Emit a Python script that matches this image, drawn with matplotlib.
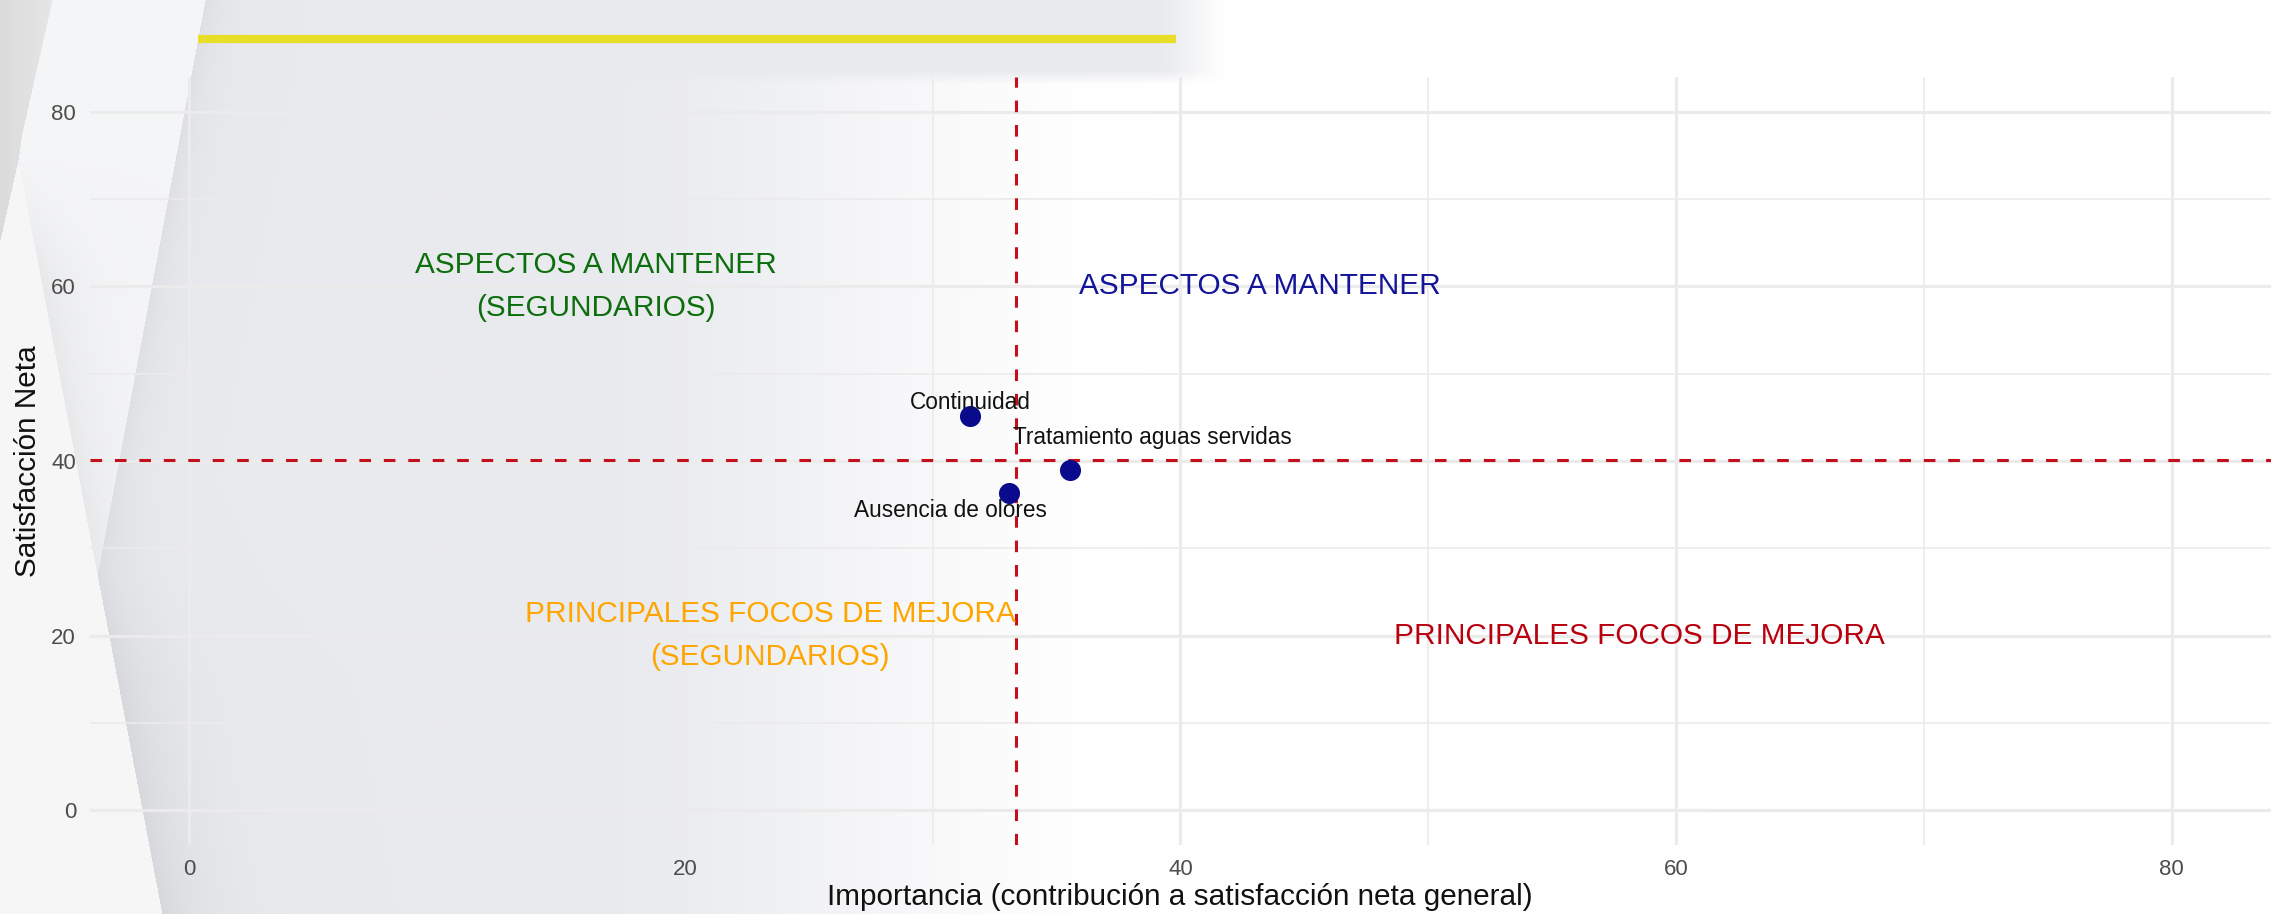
import numpy as np
import matplotlib
matplotlib.use("Agg")
import matplotlib.pyplot as plt

plt.rcParams['font.family'] = ['Liberation Sans', 'DejaVu Sans']

# ---------------- data ----------------
aspectos = ["Continuidad", "Tratamiento aguas servidas", "Ausencia de olores"]
importancia = [31.5, 35.56, 33.08]
satisfaccion = [45.1, 39.0, 36.3]

x_ticks = [0, 20, 40, 60, 80]
y_ticks = [0, 20, 40, 60, 80]
x_minor = [10, 30, 50, 70]
y_minor = [10, 30, 50, 70]

quadrant_texts = ["ASPECTOS A MANTENER\n(SEGUNDARIOS)",
                  "ASPECTOS A MANTENER",
                  "PRINCIPALES FOCOS DE MEJORA\n(SEGUNDARIOS)",
                  "PRINCIPALES FOCOS DE MEJORA"]
quadrant_x = [16.4, 43.2, 23.45, 58.5]
quadrant_y = [60.0, 60.0, 20.0, 20.0]
quadrant_colors = ["#0c6e0c", "#14149a", "#ffa500", "#b8000f"]

x_title = "Importancia (contribución a satisfacción neta general)"
y_title = "Satisfacción Neta"

# label offsets (points) for point annotations
label_offsets = [(0, 10), (59, 23), (-42, -12.5)]

# ---------------- figure ----------------
W, H = 2287, 914
fig = plt.figure(figsize=(W / 100, H / 100), dpi=100)
fig.patch.set_facecolor("white")

# decorative background
bg = fig.add_axes([0, 0, 1, 1], zorder=0)
yy, xx = np.mgrid[0:H, 0:W].astype(float)
white = np.array([1.0, 1.0, 1.0])
panel_c = np.array([0.913, 0.918, 0.933])

t = np.clip((xx - 550) / (1150 - 550), 0, 1)
s = t * t * (3 - 2 * t)
img = panel_c + (white - panel_c) * s[..., None]

# top strip (gray until ~1200 px)
t2 = np.clip((xx - 1150) / (1235 - 1150), 0, 1)
s2 = t2 * t2 * (3 - 2 * t2)
topc = panel_c + (white - panel_c) * s2[..., None]
ty = np.clip((yy - 70) / 14, 0, 1)
wy = (1 - ty)[..., None]
img = topc * wy + img * (1 - wy)

xA = 205 - yy * 105 / 560
xB = 18 + (yy - 160) * 144 / 754
edge = np.maximum(xA, xB)
panel_mask = xx > edge

# shadows on panel side (smoothly varying along y)
e = np.clip(xx - edge, 0, None)
by = np.clip((yy - 480) / 200, 0, 1)
amp = 0.045 + 0.03 * by
wid = 22 + 23 * by
shade = amp * np.exp(-e / wid)
img = img * (1 - shade[..., None])

# dark region top-left
dark_edge = np.where(yy < 133, 52 - yy * 30 / 133, 22 - (yy - 133) * 4 / 27)
dark_mask = ((yy < 160) & (xx < dark_edge)) | ((yy >= 160) & (yy < 240) & (xx < 18 - (yy - 160) * 18 / 80))
left_bound = np.where(yy < 160, dark_edge, xB)
band_mask = (~panel_mask) & (xx >= left_bound) & (~dark_mask)
light_mask = (~panel_mask) & (~band_mask) & (~dark_mask)

ramp = np.clip((yy - 160) / 120, 0, 1)
band_val = 0.958 - 0.05 * np.exp(-np.clip(xx - xB, 0, None) / 35) * ramp
band_col = np.stack([band_val, band_val + 0.003, band_val + 0.01], axis=-1)
img = np.where(band_mask[..., None], np.clip(band_col, 0, 1), img)
img = np.where(light_mask[..., None], np.array([0.965, 0.965, 0.965]), img)
dark_val = 0.86 + 0.04 * np.clip(xx / 50, 0, 1)
img = np.where(dark_mask[..., None], np.stack([dark_val] * 3, axis=-1), img)

bg.imshow(np.clip(img, 0, 1), extent=(0, W, H, 0), aspect="auto", interpolation="bilinear")
bg.plot([198, 1176], [39, 39], color="#e8dd27", lw=5.9, solid_capstyle="butt")
bg.set_xlim(0, W)
bg.set_ylim(H, 0)
bg.axis("off")

# main axes
L, R, T, B = 90, 2271, 77, 845
ax = fig.add_axes([L / W, 1 - B / H, (R - L) / W, (B - T) / H], zorder=1)
ax.patch.set_visible(False)
ax.set_xlim(-4, 84)
ax.set_ylim(-4, 84)
for sp in ax.spines.values():
    sp.set_visible(False)
ax.set_xticks(x_ticks)
ax.set_yticks(y_ticks)
ax.set_xticks(x_minor, minor=True)
ax.set_yticks(y_minor, minor=True)
ax.set_xticklabels([str(v) for v in x_ticks])
ax.set_yticklabels([str(v) for v in y_ticks])
ax.tick_params(which="both", length=0)
ax.tick_params(axis="both", labelsize=16, labelcolor="#4d4d4d", pad=10)
ax.grid(which="major", color="#ebebeb", lw=2.3)
ax.grid(which="minor", color="#ebebeb", lw=1.2)
ax.set_axisbelow(True)

mx = float(np.mean(importancia))
my = float(np.mean(satisfaccion))
ax.axvline(mx, color="#c4101c", lw=2.2, ls=(0, (3.8, 4.2)), zorder=2)
ax.axhline(my, color="#c4101c", lw=2.2, ls=(0, (3.8, 4.2)), zorder=2)

for tx, qx, qy, qc in zip(quadrant_texts, quadrant_x, quadrant_y, quadrant_colors):
    ax.text(qx, qy, tx, color=qc, fontsize=21.4, ha="center", va="center",
            linespacing=1.65, zorder=2)

ax.scatter(importancia, satisfaccion, s=230, color="#0a0a8c", zorder=3, linewidths=0)
for lab, xv, yv, off in zip(aspectos, importancia, satisfaccion, label_offsets):
    ax.annotate(lab, (xv, yv), xytext=off, textcoords="offset points",
                ha="center", va="center", fontsize=16.3, color="#111111", zorder=4)

fig.text(1180 / W, 1 - 897 / H, x_title, fontsize=21.4, color="#111111",
         ha="center", va="center")
fig.text(27.5 / W, 1 - 461 / H, y_title, fontsize=21.4, color="#111111",
         ha="center", va="center", rotation=90)

fig.savefig("out.png", dpi=100)
